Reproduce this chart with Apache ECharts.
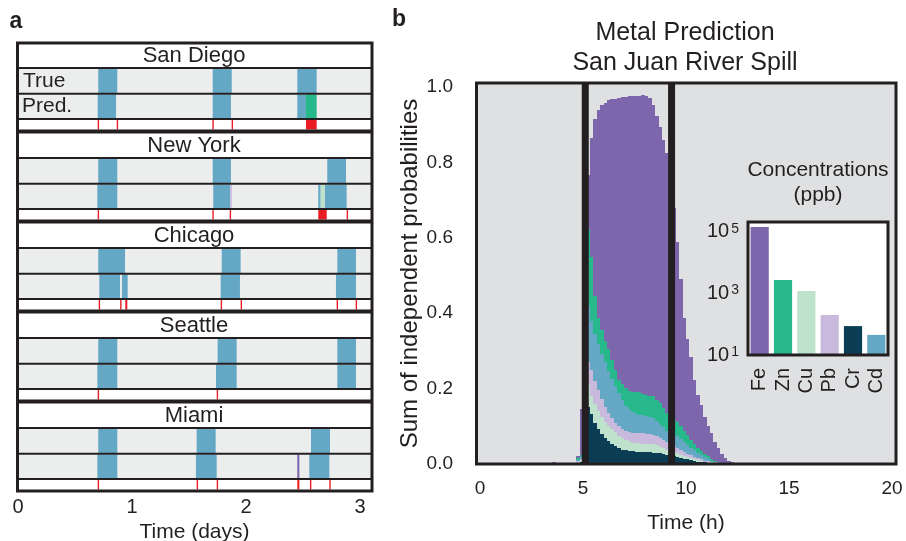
<!DOCTYPE html>
<html>
<head>
<meta charset="utf-8">
<script src="https://cdn.jsdelivr.net/npm/echarts@6/dist/echarts.min.js"></script>
<style>
html, body { margin: 0; padding: 0; background: #fff; }
#chart { width: 906px; height: 541px; }
</style>
</head>
<body>
<div id="chart"></div>
<script>
var FONT = '"Liberation Sans", Arial, sans-serif';
var INK = '#231f20';

// ---- panel a: city detections (days) ----
var cities = ['San Diego', 'New York', 'Chicago', 'Seattle', 'Miami'];
var dayTicks = [0, 1, 2, 3];
var trueEvents = [
	[[0.704, 0.871], [1.708, 1.875], [2.450, 2.620]],
	[[0.704, 0.871], [1.708, 1.868], [2.713, 2.877]],
	[[0.704, 0.939], [1.787, 1.953], [2.801, 2.965]],
	[[0.704, 0.871], [1.751, 1.918], [2.801, 2.965]],
	[[0.704, 0.871], [1.567, 1.734], [2.570, 2.737]]
];
var predEvents = [
	[[0.699, 0.860, 'Cd'], [1.708, 1.868, 'Cd'], [2.450, 2.526, 'Cd'], [2.526, 2.620, 'Zn']],
	[[0.696, 0.871, 'Cd'], [1.713, 1.860, 'Cd'], [1.860, 1.875, 'Pb'], [2.634, 2.655, 'Cd'], [2.655, 2.693, 'Cu'], [2.693, 2.883, 'Cd']],
	[[0.713, 0.895, 'Cd'], [0.912, 0.962, 'Cd'], [1.778, 1.947, 'Cd'], [2.789, 2.965, 'Cd']],
	[[0.696, 0.871, 'Cd'], [1.737, 1.918, 'Cd'], [2.801, 2.965, 'Cd']],
	[[0.696, 0.871, 'Cd'], [1.561, 1.743, 'Cd'], [2.450, 2.468, 'Fe'], [2.555, 2.731, 'Cd']]
];
var errorMarks = [
	[[0.699, 0.699], [0.866, 0.866], [1.705, 1.705], [1.874, 1.874], [2.526, 2.620]],
	[[0.699, 0.699], [1.705, 1.705], [1.857, 1.866], [2.634, 2.708], [2.883, 2.883]],
	[[0.708, 0.708], [0.896, 0.906], [0.941, 0.959], [1.778, 1.778], [1.953, 1.953], [2.795, 2.795], [2.962, 2.962]],
	[[0.699, 0.699], [1.743, 1.743]],
	[[0.699, 0.699], [1.567, 1.567], [1.743, 1.743], [2.450, 2.468], [2.561, 2.561], [2.731, 2.731]]
];

// ---- panel b: stacked probabilities, 10 min bins starting at 3.5 h ----
var binStartHour = 3.5, binHours = 1 / 6;
var hourTicks = [0, 5, 10, 15, 20];
var probTicks = [0, 0.2, 0.4, 0.6, 0.8, 1.0];
var spillMarks = [5.11, 9.30];
var layerOrder = ['Cr', 'Cu', 'Pb', 'Cd', 'Zn', 'Fe'];
var probCr = [0, 0, 0, 0, 0, 0, 0, 0, 0.006, 0.14,
	0.150, 0.132, 0.110, 0.093, 0.080, 0.069, 0.060, 0.053, 0.047, 0.042,
	0.038, 0.036, 0.034, 0.034, 0.033, 0.033, 0.032, 0.031, 0.031, 0.030,
	0.029, 0.028, 0.026, 0.024, 0.022, 0.020, 0.018, 0.016, 0.014, 0.012,
	0.010, 0.008, 0.006, 0.005, 0.004, 0.003, 0.002, 0.002, 0.001, 0.001,
	0, 0, 0, 0];
var probCu = [0, 0, 0, 0, 0, 0, 0, 0.003, 0.004, 0.06,
	0.060, 0.048, 0.048, 0.047, 0.044, 0.042, 0.041, 0.040, 0.038, 0.033,
	0.030, 0.027, 0.026, 0.023, 0.023, 0.022, 0.022, 0.022, 0.022, 0.022,
	0.021, 0.018, 0.016, 0.014, 0.012, 0.011, 0.010, 0.009, 0.008, 0.007,
	0.006, 0.005, 0.004, 0.003, 0.002, 0.002, 0.002, 0.001, 0.001, 0,
	0.001, 0, 0, 0];
var probPb = [0, 0, 0, 0, 0, 0, 0, 0.004, 0.004, 0.06,
	0.060, 0.070, 0.062, 0.055, 0.048, 0.041, 0.034, 0.028, 0.025, 0.025,
	0.025, 0.025, 0.025, 0.026, 0.026, 0.026, 0.027, 0.027, 0.026, 0.026,
	0.025, 0.023, 0.022, 0.021, 0.020, 0.017, 0.014, 0.011, 0.009, 0.008,
	0.007, 0.006, 0.005, 0.004, 0.003, 0.002, 0.001, 0.001, 0.001, 0.001,
	0, 0, 0, 0];
var probCd = [0, 0, 0, 0, 0, 0, 0, 0.004, 0.005, 0.14,
	0.150, 0.130, 0.125, 0.123, 0.120, 0.118, 0.113, 0.105, 0.097, 0.088,
	0.077, 0.067, 0.060, 0.055, 0.051, 0.049, 0.048, 0.047, 0.046, 0.043,
	0.038, 0.035, 0.033, 0.029, 0.028, 0.029, 0.031, 0.030, 0.028, 0.024,
	0.020, 0.017, 0.014, 0.011, 0.009, 0.006, 0.004, 0.002, 0.001, 0,
	0, 0, 0, 0];
var probZn = [0, 0, 0, 0, 0, 0, 0, 0.005, 0.006, 0.19,
	0.200, 0.170, 0.100, 0.069, 0.063, 0.057, 0.056, 0.051, 0.042, 0.035,
	0.042, 0.046, 0.049, 0.052, 0.057, 0.060, 0.058, 0.056, 0.056, 0.059,
	0.057, 0.057, 0.051, 0.047, 0.043, 0.041, 0.039, 0.034, 0.029, 0.025,
	0.021, 0.017, 0.014, 0.012, 0.009, 0.007, 0.005, 0.003, 0.002, 0.001,
	0.001, 0.001, 0, 0];
var probFe = [0.005, 0, 0, 0, 0, 0, 0, 0.004, 0.120, 0.150,
	0.147, 0.316, 0.470, 0.552, 0.597, 0.631, 0.662, 0.691, 0.719, 0.747,
	0.761, 0.772, 0.782, 0.786, 0.786, 0.786, 0.792, 0.793, 0.790, 0.772,
	0.753, 0.733, 0.711, 0.690, 0.635, 0.562, 0.478, 0.390, 0.299, 0.255,
	0.221, 0.170, 0.140, 0.121, 0.098, 0.081, 0.067, 0.050, 0.036, 0.023,
	0.014, 0.008, 0.005, 0];
var probByMetal = { Cr: probCr, Cu: probCu, Pb: probPb, Cd: probCd, Zn: probZn, Fe: probFe };

// ---- inset: concentrations (ppb) ----
var metals = ['Fe', 'Zn', 'Cu', 'Pb', 'Cr', 'Cd'];
var concentrations = [145000, 2750, 1200, 200, 87, 45];
var concTicks = [10, 1000, 100000];

var metalColor = {
	Fe: '#7e66ad', Zn: '#27b98b', Cu: '#bfe2cd',
	Pb: '#c9b9dc', Cr: '#0b3e55', Cd: '#65a8c6'
};

// layout of panel a (pixels)
var A_TOP = 44, CITY_H = 90;
var ROW_SPAN = [[25, 49], [50.5, 74], [76, 85.5]];
var PROB_MAX = 381 / 377;

var eventItems = [];
cities.forEach(function(c, i) {
	trueEvents[i].forEach(function(e) {
		eventItems.push({ value: [i, e[0], e[1], 0], color: metalColor.Cd });
	});
	predEvents[i].forEach(function(e) {
		eventItems.push({ value: [i, e[0], e[1], 1], color: metalColor[e[2]] });
	});
	errorMarks[i].forEach(function(e) {
		eventItems.push({ value: [i, e[0], e[1], 2], color: '#ec1c24' });
	});
});

function renderEvent(params, api) {
	var item = eventItems[params.dataIndex];
	var span = ROW_SPAN[api.value(3)];
	var off = api.value(0) * CITY_H;
	var p0 = api.coord([api.value(1), off + span[0]]);
	var p1 = api.coord([api.value(2), off + span[1]]);
	return {
		type: 'rect',
		shape: { x: p0[0], y: p0[1], width: Math.max(p1[0] - p0[0], 1.4), height: p1[1] - p0[1] },
		style: { fill: item.color }
	};
}

// stacked bins: [start h, end h, lower, upper]
function layerItems(m) {
	var idx = layerOrder.indexOf(m);
	return probByMetal[m].map(function(v, i) {
		var base = 0;
		for (var j = 0; j < idx; j++) base += probByMetal[layerOrder[j]][i];
		var t0 = binStartHour + i * binHours;
		return [t0, t0 + binHours, base, base + v];
	});
}

function renderBin(params, api) {
	if (api.value(3) - api.value(2) <= 0) return null;
	var p0 = api.coord([api.value(0), api.value(3)]);
	var p1 = api.coord([api.value(1), api.value(2)]);
	var x0 = Math.round(p0[0]), x1 = Math.round(p1[0]);
	var y0 = Math.round(p0[1]), y1 = Math.round(p1[1]);
	if (y1 <= y0) return null;
	return {
		type: 'rect',
		shape: { x: x0, y: y0, width: x1 - x0, height: y1 - y0 },
		style: { fill: api.visual('color') }
	};
}

function renderSpill(params, api) {
	var p0 = api.coord([api.value(0), 0]);
	var p1 = api.coord([api.value(0), PROB_MAX]);
	return {
		type: 'rect',
		shape: { x: p0[0] - 3.5, y: p1[1], width: 7, height: p0[1] - p1[1] },
		style: { fill: INK }
	};
}

function txt(x, y, s, size, opt) {
	opt = opt || {};
	return {
		type: 'text', z: 60, x: x, y: y,
		style: {
			text: s, font: (opt.bold ? 'bold ' : '') + size + 'px ' + FONT, fill: INK,
			align: opt.align || 'center', textAlign: opt.align || 'center',
			verticalAlign: 'middle', textVerticalAlign: 'middle'
		}
	};
}

var graphics = [];
// panel a structure
cities.forEach(function(name, i) {
	var b = A_TOP + i * CITY_H;
	graphics.push({ type: 'rect', z: 0, shape: { x: 19, y: b + 25, width: 352, height: 24 }, style: { fill: '#eceeee' } });
	graphics.push({ type: 'rect', z: 0, shape: { x: 19, y: b + 50.5, width: 352, height: 23.5 }, style: { fill: '#eceeee' } });
	[b + 24, b + 49.75, b + 75].forEach(function(y) {
		graphics.push({ type: 'line', z: 50, shape: { x1: 19, y1: y, x2: 371, y2: y }, style: { stroke: INK, lineWidth: 2 } });
	});
	if (i < cities.length - 1) {
		graphics.push({ type: 'line', z: 50, shape: { x1: 17, y1: b + 87.5, x2: 373, y2: b + 87.5 }, style: { stroke: INK, lineWidth: 4 } });
	}
	graphics.push(txt(194, b + 12, name, 22));
});
graphics.push(txt(23, A_TOP + 37, 'True', 21, { align: 'left' }));
graphics.push(txt(22, A_TOP + 62, 'Pred.', 21, { align: 'left' }));
graphics.push({ type: 'rect', z: 100, shape: { x: 17.5, y: 43, width: 354.5, height: 448 }, style: { fill: null, stroke: INK, lineWidth: 3 } });

// panel b structure
graphics.push({ type: 'rect', z: 0, shape: { x: 476.5, y: 83, width: 419.5, height: 381 }, style: { fill: '#dfe0e2' } });
graphics.push({ type: 'rect', z: 100, shape: { x: 476.5, y: 83, width: 419.5, height: 381 }, style: { fill: null, stroke: INK, lineWidth: 3 } });
// inset box
graphics.push({ type: 'rect', z: 1, shape: { x: 748, y: 222, width: 140, height: 133 }, style: { fill: '#fff' } });
graphics.push({ type: 'rect', z: 100, shape: { x: 748, y: 222, width: 140, height: 133 }, style: { fill: null, stroke: INK, lineWidth: 3 } });
graphics.push(txt(685, 33, 'Metal Prediction', 25));
graphics.push(txt(685, 63, 'San Juan River Spill', 25));
graphics.push(txt(818, 170, 'Concentrations', 21));
graphics.push(txt(818, 195, '(ppb)', 21));
graphics.push(txt(16, 22, 'a', 23, { bold: true }));
graphics.push(txt(399, 20, 'b', 23, { bold: true }));

var areaSeries = layerOrder.map(function(m) {
	return {
		name: m,
		type: 'custom',
		xAxisIndex: 1,
		yAxisIndex: 1,
		itemStyle: { color: metalColor[m] },
		renderItem: renderBin,
		encode: { x: [0, 1], y: [2, 3] },
		data: layerItems(m)
	};
});

var option = {
	animation: false,
	textStyle: { fontFamily: FONT },
	graphic: { elements: graphics },
	grid: [
		{ left: 18, top: A_TOP, width: 353, height: 450, outerBoundsMode: 'none' },
		{ left: 480, top: 83, width: 412, height: 381, outerBoundsMode: 'none' },
		{ left: 748, top: 222, width: 140, height: 133, outerBoundsMode: 'none' }
	],
	xAxis: [
		{
			gridIndex: 0, type: 'value', min: 0, max: 353 / 114, interval: 1, position: 'bottom',
			axisLine: { show: false, onZero: false }, axisTick: { show: false }, splitLine: { show: false },
			axisLabel: {
				fontSize: 20, color: INK, margin: 3,
				formatter: function(v) { return dayTicks.indexOf(v) >= 0 ? String(v) : ''; }
			},
			name: 'Time (days)', nameLocation: 'middle', nameGap: 25,
			nameTextStyle: { fontSize: 21, color: INK }
		},
		{
			gridIndex: 1, type: 'value', min: 0, max: 20, interval: 5,
			axisLine: { show: false, onZero: false }, axisTick: { show: false }, splitLine: { show: false },
			axisLabel: {
				fontSize: 19, color: INK, margin: 15,
				formatter: function(v) { return hourTicks.indexOf(v) >= 0 ? String(v) : ''; }
			},
			name: 'Time (h)', nameLocation: 'middle', nameGap: 49,
			nameTextStyle: { fontSize: 21, color: INK }
		},
		{
			gridIndex: 2, type: 'category', data: metals,
			axisLine: { show: false, onZero: false }, axisTick: { show: false },
			axisLabel: { rotate: 90, interval: 0, fontSize: 20, color: INK, margin: 13 }
		}
	],
	yAxis: [
		{
			gridIndex: 0, type: 'value', min: 0, max: 450, inverse: true, show: false
		},
		{
			gridIndex: 1, type: 'value', min: 0, max: PROB_MAX, interval: 0.2,
			axisLine: { show: false }, axisTick: { show: false }, splitLine: { show: false },
			axisLabel: {
				fontSize: 19, color: INK, margin: 27,
				formatter: function(v) {
					for (var i = 0; i < probTicks.length; i++) {
						if (Math.abs(v - probTicks[i]) < 1e-6) return probTicks[i].toFixed(1);
					}
					return '';
				}
			},
			name: 'Sum of independent probabilities', nameLocation: 'middle', nameGap: 58,
			nameTextStyle: { fontSize: 24, color: INK }
		},
		{
			gridIndex: 2, type: 'log', logBase: 10, min: 10, max: 211000,
			axisLine: { show: false }, axisTick: { show: false }, splitLine: { show: false },
			axisLabel: {
				margin: 9, color: INK,
				formatter: function(v) {
					var e = Math.round(Math.log10(v));
					for (var i = 0; i < concTicks.length; i++) {
						if (Math.abs(v - concTicks[i]) / concTicks[i] < 1e-6) return '{b|10}{s|' + e + '}';
					}
					return '';
				},
				rich: {
					b: { fontSize: 20, color: INK },
					s: { fontSize: 14, color: INK, verticalAlign: 'top', padding: [0, 0, 0, 2] }
				}
			}
		}
	],
	series: [
		{
			type: 'custom',
			xAxisIndex: 0,
			yAxisIndex: 0,
			renderItem: renderEvent,
			encode: { x: [1, 2], y: 0 },
			data: eventItems.map(function(e) { return e.value; })
		}
	].concat(areaSeries).concat([
		{
			type: 'custom',
			xAxisIndex: 1,
			yAxisIndex: 1,
			z: 3,
			renderItem: renderSpill,
			encode: { x: 0 },
			data: spillMarks.map(function(h) { return [h]; })
		},
		{
			type: 'bar',
			xAxisIndex: 2,
			yAxisIndex: 2,
			barCategoryGap: '22%',
			data: concentrations.map(function(v, i) {
				return { value: v, itemStyle: { color: metalColor[metals[i]] } };
			})
		}
	])
};

var myChart = echarts.init(document.getElementById('chart'));
myChart.setOption(option);
</script>
</body>
</html>
